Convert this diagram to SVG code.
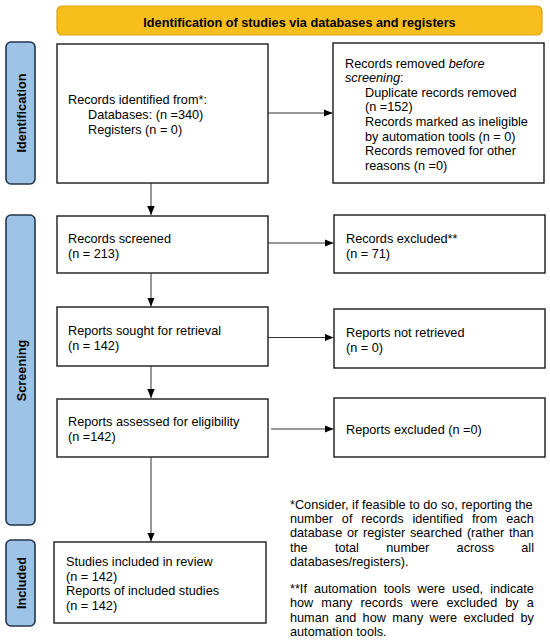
<svg xmlns="http://www.w3.org/2000/svg" width="550" height="640" viewBox="0 0 550 640">
<style>
text{font-family:"Liberation Sans",Arial,sans-serif;font-size:12.7px;fill:#000}
.b{font-weight:bold}
.box{fill:#fff;stroke:#1a1a1a;stroke-width:1.4}
.lab{fill:#9DC3E6;stroke:#24344a;stroke-width:1.6}
.ban{fill:#F8BE1C;stroke:#D9A21A;stroke-width:1.2}
.c{stroke:#333;stroke-width:1;fill:none;marker-end:url(#ah)}
.m{text-anchor:middle}
</style>
<defs>
<marker id="ah" markerUnits="userSpaceOnUse" markerWidth="10" markerHeight="8" refX="9" refY="3.75" orient="auto">
<path d="M0,0 L9,3.75 L0,7.5 z" fill="#000"/>
</marker>
</defs>
<rect width="550" height="640" fill="#fff"/>
<g id="banner">
<rect class="ban" x="57" y="6" width="485" height="29" rx="5"/>
<text class="b m" x="299.5" y="26.8">Identification of studies via databases and registers</text>
</g>
<g id="label-identification">
<rect class="lab" x="6" y="42" width="29" height="142" rx="5"/>
<text class="b m" transform="translate(25.6,113) rotate(-90)">Identification</text>
</g>
<g id="label-screening">
<rect class="lab" x="6" y="215" width="29" height="310" rx="5"/>
<text class="b m" transform="translate(25.6,370.5) rotate(-90)">Screening</text>
</g>
<g id="label-included">
<rect class="lab" x="6" y="540" width="29" height="86" rx="5"/>
<text class="b m" transform="translate(25.6,583) rotate(-90)">Included</text>
</g>
<g id="connectors">
<line class="c" x1="151" y1="183" x2="151" y2="215"/>
<line class="c" x1="151" y1="273" x2="151" y2="306.5"/>
<line class="c" x1="151" y1="366" x2="151" y2="398"/>
<line class="c" x1="151" y1="457" x2="151" y2="541.5"/>
<line class="c" x1="268" y1="113" x2="332.5" y2="113"/>
<line class="c" x1="268" y1="243" x2="333.5" y2="243"/>
<line class="c" x1="268" y1="337.5" x2="333.5" y2="337.5"/>
<line class="c" x1="271" y1="429" x2="333.5" y2="429"/>
</g>
<g id="records-identified">
<rect class="box" x="57" y="44" width="211" height="139"/>
<text x="68" y="103.5">Records identified from*:</text>
<text x="88" y="118.5">Databases: (n =340)</text>
<text x="88" y="133.5">Registers (n = 0)</text>
</g>
<g id="records-removed">
<rect class="box" x="333" y="43" width="211" height="140"/>
<text x="345" y="67.5">Records removed <tspan font-style="italic">before</tspan></text>
<text x="345" y="82.1"><tspan font-style="italic">screening</tspan>:</text>
<text x="365" y="96.7">Duplicate records removed</text>
<text x="365" y="111.3">(n =152)</text>
<text x="365" y="125.9">Records marked as ineligible</text>
<text x="365" y="140.5">by automation tools (n = 0)</text>
<text x="365" y="155.1">Records removed for other</text>
<text x="365" y="169.7">reasons (n =0)</text>
</g>
<g id="records-screened">
<rect class="box" x="57" y="216" width="211" height="57"/>
<text x="68" y="242.5">Records screened</text>
<text x="68" y="257.5">(n = 213)</text>
</g>
<g id="records-excluded">
<rect class="box" x="334" y="215" width="211" height="58"/>
<text x="346" y="242.5">Records excluded**</text>
<text x="346" y="257.5">(n = 71)</text>
</g>
<g id="reports-sought">
<rect class="box" x="57" y="307" width="211" height="59"/>
<text x="68" y="334.5">Reports sought for retrieval</text>
<text x="68" y="350">(n = 142)</text>
</g>
<g id="reports-not-retrieved">
<rect class="box" x="334" y="309" width="211" height="59"/>
<text x="346" y="336.5">Reports not retrieved</text>
<text x="346" y="351.5">(n = 0)</text>
</g>
<g id="reports-assessed">
<rect class="box" x="57" y="399" width="211" height="58"/>
<text x="68" y="425.5">Reports assessed for eligibility</text>
<text x="68" y="441">(n =142)</text>
</g>
<g id="reports-excluded">
<rect class="box" x="334" y="398" width="211" height="59"/>
<text x="346" y="433.5">Reports excluded (n =0)</text>
</g>
<g id="studies-included">
<rect class="box" x="54" y="542" width="212" height="81"/>
<text x="66" y="565.5">Studies included in review</text>
<text x="66" y="580.5">(n = 142)</text>
<text x="66" y="595">Reports of included studies</text>
<text x="66" y="610">(n = 142)</text>
</g>
<g id="footnotes">
<text x="290" y="508.5">*Consider, if feasible to do so, reporting the</text>
<text x="290" y="522.5" word-spacing="5.3">number of records identified from each</text>
<text x="290" y="537" word-spacing="1.2">database or register searched (rather than</text>
<text x="290" y="551.5" word-spacing="23.8">the total number across all</text>
<text x="290" y="566">databases/registers).</text>
<text x="290" y="592.5" word-spacing="3.5">**If automation tools were used, indicate</text>
<text x="290" y="607" word-spacing="4.55">how many records were excluded by a</text>
<text x="290" y="621.5" word-spacing="2.8">human and how many were excluded by</text>
<text x="290" y="636">automation tools.</text>
</g>
</svg>
